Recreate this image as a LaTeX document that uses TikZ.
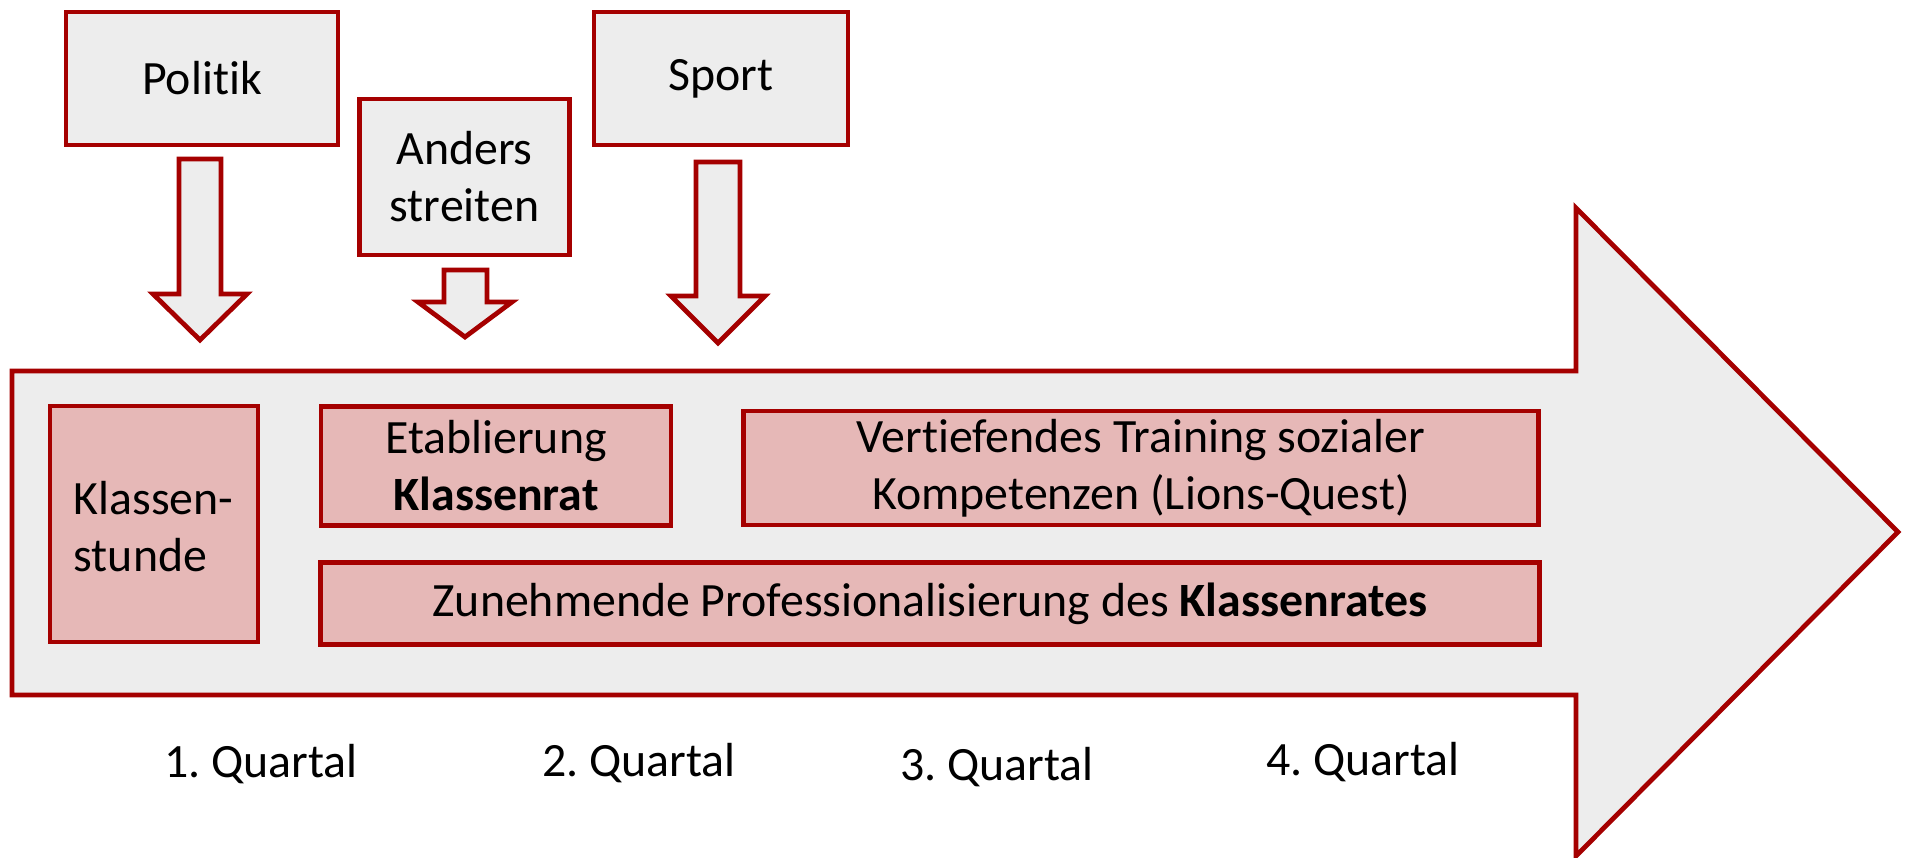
\documentclass[tikz,border=0pt]{standalone}
\usepackage{fontspec}
\setmainfont[Ligatures={NoCommon}]{Carlito}
\frenchspacing
\definecolor{dred}{HTML}{A50000}
\definecolor{lgray}{HTML}{EDEDED}
\definecolor{rosa}{HTML}{E6B8B7}
\begin{document}
\begin{tikzpicture}[x=0.01cm,y=-0.01cm,
  font=\fontsize{13.6}{16.2}\selectfont,
  outl/.style={draw=dred,line width=1.35pt,line join=miter},
  topbox/.style={outl,fill=lgray,align=center,inner sep=0pt},
  pinkbox/.style={outl,fill=rosa,align=center,inner sep=0pt},
  blockarrow/.style={outl,fill=lgray},
  qlabel/.style={inner sep=0pt}]
\useasboundingbox (0,0) rectangle (1905,858);
% big arrow
\draw[blockarrow] (12,371) -- (1576,371) -- (1576,208) -- (1898,532) -- (1576,856) -- (1576,695) -- (12,695) -- cycle;
% top boxes
\node[topbox,minimum width=2.72cm,minimum height=1.33cm] (politik) at (202,78.5) {Politik};
\node[topbox,minimum width=2.10cm,minimum height=1.56cm] (anders) at (464.5,177) {Anders\\streiten};
\node[topbox,minimum width=2.54cm,minimum height=1.33cm] (sport) at (721,78.5) {Sport};
% small block arrows
\draw[blockarrow] (179,159) -- (221,159) -- (221,294) -- (247,294) -- (200,340) -- (153,294) -- (179,294) -- cycle;
\draw[blockarrow] (444,270) -- (487,270) -- (487,302) -- (512,302) -- (465,337) -- (418,302) -- (444,302) -- cycle;
\draw[blockarrow] (696,162) -- (740,162) -- (740,296) -- (765,296) -- (718,343) -- (671,296) -- (696,296) -- cycle;
% inner boxes
\node[pinkbox,minimum width=2.08cm,minimum height=2.36cm] (klassenstunde) at (154,524) {};
\node[anchor=west,align=left,inner sep=0pt] (kstext) at (73,527) {Klassen-\\stunde};
\node[pinkbox,minimum width=3.50cm,minimum height=1.19cm] (etabl) at (496,466) {Etablierung\\\textbf{Klassenrat}};
\node[pinkbox,minimum width=7.94cm,minimum height=1.14cm] (vert) at (1141,468) {Vertiefendes Training sozialer\\Kompetenzen (Lions-Quest)};
\node[pinkbox,minimum width=12.18cm,minimum height=0.82cm] (zun) at (930,603.5) {Zunehmende Professionalisierung des \textbf{Klassenrates}};
% quarter labels
\node[qlabel] (q1) at (261,764) {1. Quartal};
\node[qlabel] (q2) at (639,763) {2. Quartal};
\node[qlabel] (q3) at (997,767) {3. Quartal};
\node[qlabel] (q4) at (1363,762) {4. Quartal};
\end{tikzpicture}
\end{document}
